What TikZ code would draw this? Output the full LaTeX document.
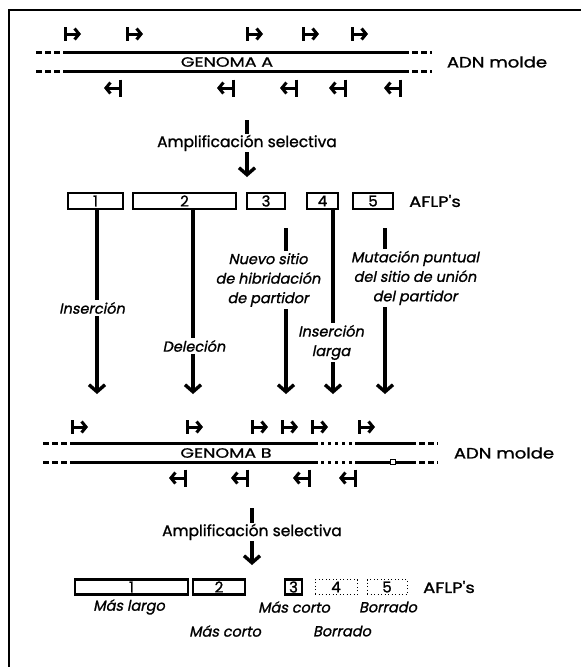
\documentclass[tikz,border=0pt]{standalone}
\usepackage{fontspec}
\setmainfont{Poppins}[FakeBold=1.2]
\newfontfamily\mainb[FakeBold=1.2]{Poppins}
\newfontfamily\slfont[FakeSlant=0.2,FakeBold=1.2]{Poppins}
\newfontfamily\widefont[FakeStretch=1.2,FakeBold=1.2]{Poppins}
\newfontfamily\genfont[FakeStretch=1.3,FakeBold=1.0]{Poppins}
\usetikzlibrary{arrows.meta}
\tikzset{
  strand/.style={line width=3pt},
  dstrand/.style={line width=3pt, dash pattern=on 6pt off 3pt},
  dotstrand/.style={line width=3pt, dash pattern=on 3pt off 4pt},
  primer/.style={line width=3pt},
  ptip/.style={-{Straight Barb[length=4.5pt,width=11pt]}},
  vline/.style={line width=3.4pt},
  varrow/.style={line width=3.4pt,-{Straight Barb[length=7pt,width=16pt]}},
  fbox/.style={draw,line width=2.4pt,minimum height=16pt,inner sep=0pt,font=\mainb\fontsize{15}{14}\selectfont},
  dbox/.style={draw,line width=0.9pt,dash pattern=on 1pt off 2.5pt,minimum height=15pt,inner sep=0pt,font=\mainb\fontsize{15}{14}\selectfont},
  lab/.style={font=\slfont\fontsize{14.5}{19.5}\selectfont,align=center,inner sep=2pt},
  amp/.style={font=\mainb\fontsize{15.5}{14}\selectfont,inner sep=1pt},
  gtxt/.style={font=\genfont\fontsize{13.5}{12}\selectfont,inner sep=0pt},
  side/.style={font=\widefont\fontsize{15}{13}\selectfont,inner sep=0pt},
  fwd/.pic={\draw[primer] (0,-7) -- (0,7); \draw[primer,ptip] (0,0) -- (16,0);},
  rev/.pic={\draw[primer] (0,-8.5) -- (0,8.5); \draw[primer,ptip] (0,0) -- (-16,0);}
}
\begin{document}
\begin{tikzpicture}[x=1pt,y=-1pt]
\useasboundingbox (0,0) rectangle (581,667);
% frame
\draw[line width=2pt] (9,680) -- (9,10) -- (590,10);

% ---------- Genome A ----------
\foreach \yy in {52,71}{
  \draw[dstrand] (36,\yy) -- (63,\yy);
  \draw[strand] (63,\yy) -- (403,\yy);
  \draw[dstrand] (403,\yy) -- (432,\yy);
}
\node[gtxt] (gA) at (227,62) {GENOMA A};
\node[side] (adnA) at (497,62) {ADN molde};
\foreach \xx in {65,127,247,303,352} \pic at (\xx,34) {fwd};
\foreach \xx in {120,233,296,345,400} \pic at (\xx,88) {rev};

% amplification A
\node[amp] (ampA) at (247,143) {Amplificación selectiva};
\coordinate (ampAtop) at (247,120);
\coordinate (ampAtip) at (247,177);
\draw[vline] (ampAtop) -- (ampA.north);
\draw[varrow] (ampA.south) -- (ampAtip);

% AFLP boxes A
\node[fbox,minimum width=55pt] (a1) at (95.5,201) {1};
\node[fbox,minimum width=103pt] (a2) at (184.5,201) {2};
\node[fbox,minimum width=38pt] (a3) at (266,201) {3};
\node[fbox,minimum width=31pt] (a4) at (322.5,201) {4};
\node[fbox,minimum width=40pt] (a5) at (373,201) {5};
\node[side] (aflpA) at (435,201) {AFLP's};

% tips
\coordinate (t1) at (97,394);
\coordinate (t2) at (193,394);
\coordinate (t3) at (286,394);
\coordinate (t4) at (333,394);
\coordinate (t5) at (385,394);

% labels
\node[lab] (l1) at (92,308) {Inserción};
\node[lab] (l2) at (194,346) {Deleción};
\node[lab] (l3) at (268,280) {Nuevo sitio\\de hibridación\\de partidor};
\node[lab] (l4) at (331,342.5) {Inserción\\larga};
\node[lab] (l5) at (415,278) {Mutación puntual\\del sitio de unión\\del partidor};

\draw[vline] (a1.south -| t1) -- (l1.north -| t1);
\draw[varrow] (l1.south -| t1) -- (t1);
\draw[vline] (a2.south -| t2) -- (l2.north -| t2);
\draw[varrow] (l2.south -| t2) -- (t2);
\draw[vline] ([yshift=-18pt]a3.south -| t3) -- (l3.north -| t3);
\draw[varrow] (l3.south -| t3) -- (t3);
\draw[vline] (a4.south -| t4) -- (l4.north -| t4);
\draw[varrow] (l4.south -| t4) -- (t4);
\draw[vline] ([yshift=-18pt]a5.south -| t5) -- (l5.north -| t5);
\draw[varrow] (l5.south -| t5) -- (t5);

% ---------- Genome B ----------
\foreach \yy in {443,462}{
  \draw[dstrand] (43,\yy) -- (72,\yy);
  \draw[strand] (72,\yy) -- (318,\yy);
  \draw[dotstrand] (321,\yy) -- (355,\yy);
  \draw[strand] (355,\yy) -- (410,\yy);
  \draw[dstrand] (410,\yy) -- (438,\yy);
}
\node[draw,fill=white,line width=0.8pt,minimum size=5pt,inner sep=0pt] (mut) at (393,462) {};
\node[gtxt] (gB) at (226,453) {GENOMA B};
\node[side] (adnB) at (504,453) {ADN molde};
\foreach \xx in {72,187,252,282,312,359} \pic at (\xx,427) {fwd};
\foreach \xx in {185,247,309,355} \pic at (\xx,478) {rev};

% amplification B
\node[amp] (ampB) at (252,532) {Amplificación selectiva};
\coordinate (ampBtop) at (252,508);
\coordinate (ampBtip) at (252,565);
\draw[vline] (ampBtop) -- (ampB.north);
\draw[varrow] (ampB.south) -- (ampBtip);

% AFLP boxes B
\node[fbox,minimum width=113pt,minimum height=15pt] (b1) at (131.5,587) {1};
\node[fbox,minimum width=52pt,minimum height=15pt] (b2) at (219,587) {2};
\node[fbox,minimum width=17pt,minimum height=15pt,line width=2.6pt] (b3) at (293.5,587) {3};
\node[dbox,minimum width=42pt] (b4) at (336,587) {4};
\node[dbox,minimum width=40pt] (b5) at (387,587) {5};
\node[side] (aflpB) at (449,587) {AFLP's};

\node[lab] (m1) at (129,607) {Más largo};
\node[lab] (m2) at (225,631) {Más corto};
\node[lab] (m3) at (294,607) {Más corto};
\node[lab] (m4) at (342,631) {Borrado};
\node[lab] (m5) at (388,607) {Borrado};
\end{tikzpicture}
\end{document}
